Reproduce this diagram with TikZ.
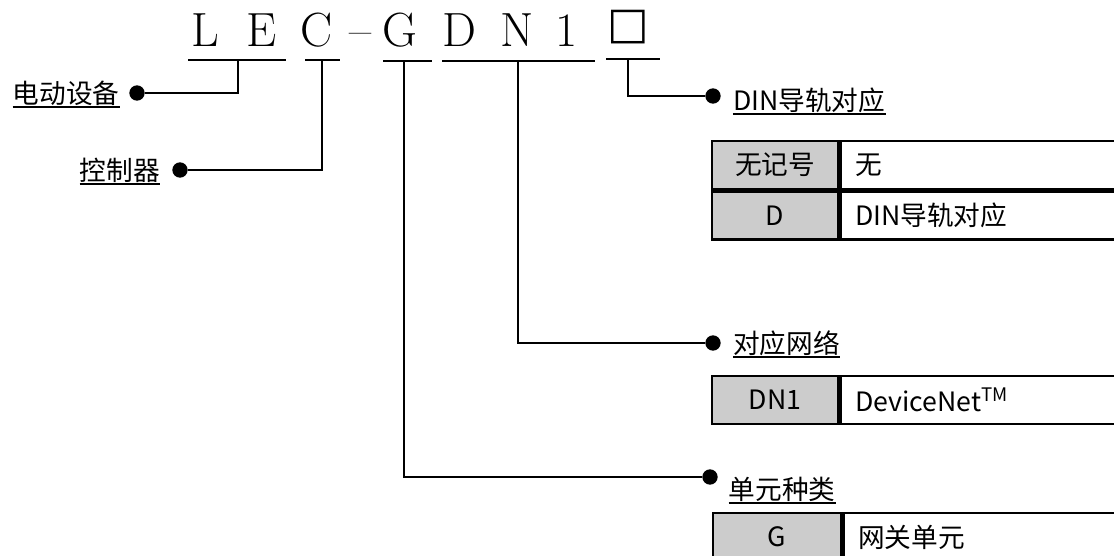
\documentclass[tikz,border=0pt]{standalone}
\usepackage{fontspec}
\usetikzlibrary{positioning}
\newfontfamily\cjk{Noto Sans CJK SC}
\newfontfamily\symfont{DejaVu Sans}
\definecolor{keygray}{gray}{0.8}
\tikzset{
  code/.style={anchor=base, inner sep=0pt, font=\fontsize{36}{40}\selectfont},
  bar/.style={line width=2pt},
  wire/.style={line width=1.5pt},
  dot/.style={circle, fill, inner sep=0pt, minimum size=11.5pt},
  lbl/.style={inner sep=0pt, font=\cjk\fontsize{20}{24}\selectfont},
  keycell/.style={draw, line width=1.7pt, fill=keygray, minimum width=94.5pt, minimum height=36pt, inner sep=0pt, font=\cjk\fontsize{20}{24}\selectfont},
  valcell/.style={draw, line width=1.7pt, minimum height=36pt, text width=207pt, inner xsep=11pt, inner ysep=0pt, align=left, font=\cjk\fontsize{20}{24}\selectfont}
}

\begin{document}
\begin{tikzpicture}[x=0.75pt, y=-0.75pt]
  \clip (0,0) rectangle (1114,556);
  % model code
  \node (cL) [code] at (205,47) {L};
  \node (cE) [code] at (262,47) {E};
  \node (cC) [code] at (317,47) {C};
  \node (cdash) [code] at (361,47) {–};
  \node (cG) [code] at (400,47) {G};
  \node (cD) [code] at (459,47) {D};
  \node (cN) [code] at (517,47) {N};
  \node (c1) [code] at (567,47) {1};
  \node (cbox) [code, font=\symfont\fontsize{33}{36}\selectfont] at (628,39) {□};
  \draw [bar] (188,60) -- (286,60);
  \draw [bar] (305,60) -- (340,60);
  \draw [bar] (383,61) -- (432,61);
  \draw [bar] (442,61) -- (595,61);
  \draw [bar] (606,59) -- (660,59);
  \coordinate (tLE) at (238,60);
  \coordinate (tC) at (322,60);
  \coordinate (tG) at (404,61);
  \coordinate (tDN) at (518,61);
  \coordinate (tbox) at (628,59);
  % left side
  \node (dLE) [dot] at (137,93) {};
  \node (dC) [dot] at (180,170) {};
  \node (lLE) [lbl, left=7pt of dLE] {电动设备};
  \node (lC) [lbl, left=9pt of dC] {控制器};
  \draw [wire] (tLE) |- (dLE);
  \draw [wire] (tC) |- (dC);
  \draw [wire] ([yshift=-1pt]lLE.south west) -- ([yshift=-1pt]lLE.south east);
  \draw [wire] ([yshift=-1pt]lC.south west) -- ([yshift=-1pt]lC.south east);
  % right side
  \node (dbox) [dot] at (713,96) {};
  \node (dDN) [dot] at (713,343) {};
  \node (dG) [dot] at (710,477) {};
  \node (lbox) [lbl, right=9pt of dbox, yshift=-3pt] {DIN导轨对应};
  \node (lDN) [lbl, right=9pt of dDN] {对应网络};
  \node (lG) [lbl, right=8pt of dG, yshift=-9pt] {单元种类};
  \draw [wire] (tbox) |- (dbox);
  \draw [wire] (tDN) |- (dDN);
  \draw [wire] (tG) |- (dG);
  \draw [wire] ([yshift=-1pt]lbox.south west) -- ([yshift=-1pt]lbox.south east);
  \draw [wire] ([yshift=-1pt]lDN.south west) -- ([yshift=-1pt]lDN.south east);
  \draw [wire] ([yshift=-1pt]lG.south west) -- ([yshift=-1pt]lG.south east);
  % tables
  \node (k1) [keycell, anchor=north west] at (711,140) {无记号};
  \node (v1) [valcell, right=0pt of k1] {无};
  \node (k2) [keycell, below=0pt of k1] {D};
  \node (v2) [valcell, right=0pt of k2] {DIN导轨对应};
  \node (k3) [keycell, anchor=north west] at (711,375) {DN1};
  \node (v3) [valcell, right=0pt of k3] {DeviceNet\textsuperscript{TM}};
  \node (k4) [keycell, anchor=north west, minimum width=96pt] at (712,512) {G};
  \node (v4) [valcell, right=0pt of k4] {网关单元};
\end{tikzpicture}
\end{document}
